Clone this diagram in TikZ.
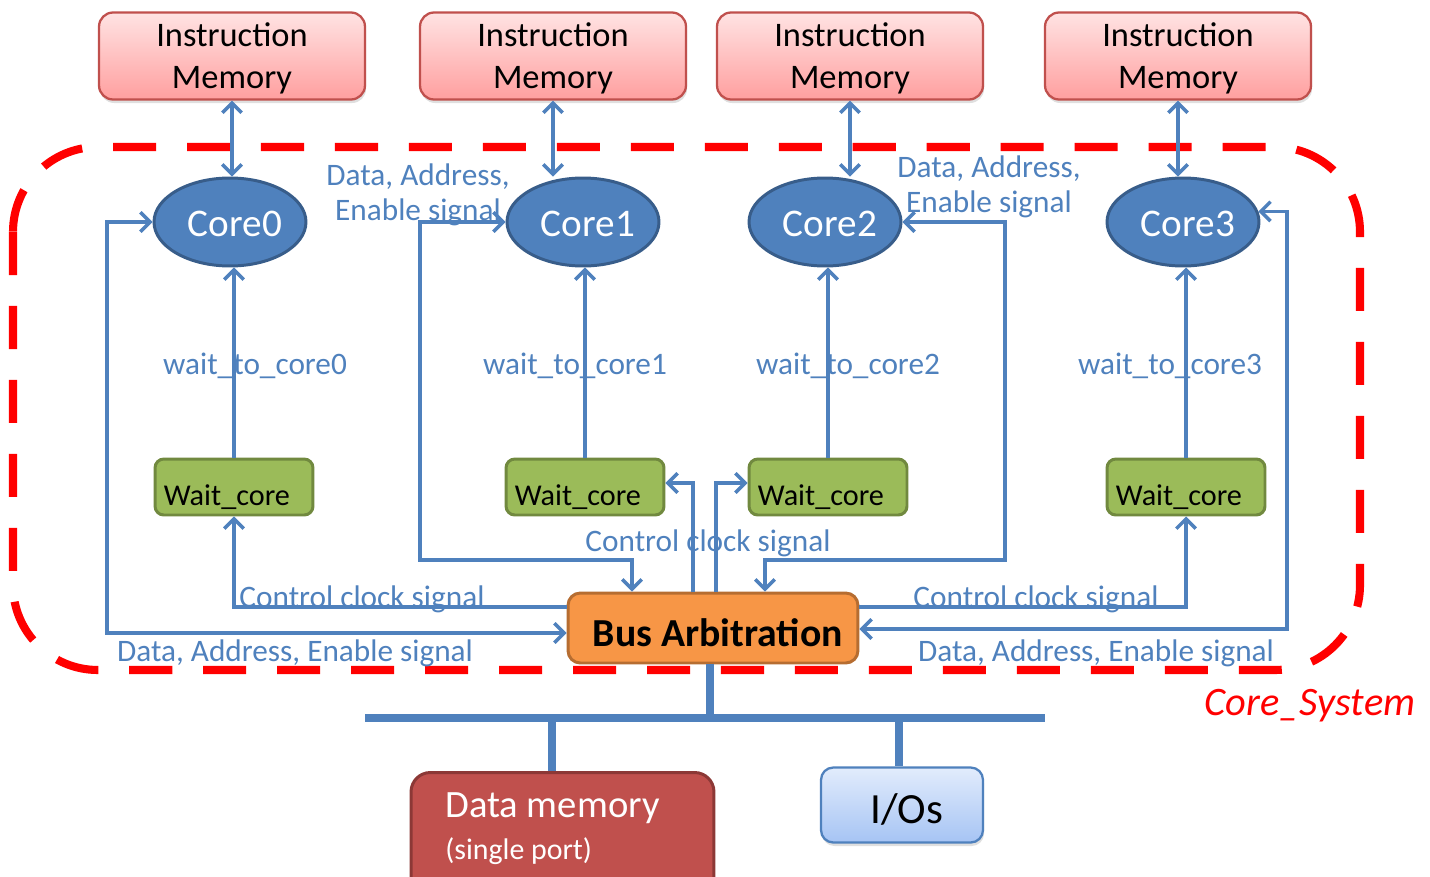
\documentclass[tikz,border=0pt]{standalone}
\usepackage{fontspec}
\setmainfont{Carlito}
\usetikzlibrary{arrows.meta,calc,shadows,shapes.geometric}

\definecolor{lineblue}{HTML}{4F81BD}
\definecolor{coreblue}{HTML}{4F81BD}
\definecolor{coreborder}{HTML}{385D8A}
\definecolor{waitgreen}{HTML}{9BBB59}
\definecolor{waitborder}{HTML}{71893F}
\definecolor{arborange}{HTML}{F79646}
\definecolor{arbborder}{HTML}{B66D31}
\definecolor{imtop}{HTML}{FFE3E3}
\definecolor{imbot}{HTML}{FF9F9F}
\definecolor{imborder}{HTML}{C0504D}
\definecolor{dmred}{HTML}{C0504D}
\definecolor{dmborder}{HTML}{8C3836}
\definecolor{iotop}{HTML}{E2ECFC}
\definecolor{iobot}{HTML}{A6C4F4}
\definecolor{ioborder}{HTML}{4F81BD}
\definecolor{sysred}{HTML}{FF0000}

% lower a one-line text inside its node without changing the node size
\newcommand{\lowered}[2]{\raisebox{-#1}[\height][\depth]{#2}}

\tikzset{
  tip/.tip={Straight Barb[length=5.5pt,width=11pt,line width=2pt]},
  imem/.style={draw=imborder, line width=1.3pt, rounded corners=8pt,
    top color=imtop, bottom color=imbot,
    minimum width=5.32cm, minimum height=1.74cm, align=center,
    text depth=0pt,
    font=\fontsize{19.6}{23.9}\selectfont,
    drop shadow={shadow xshift=0.6pt, shadow yshift=-2pt, opacity=0.25}},
  core/.style={ellipse, draw=coreborder, line width=1.7pt, fill=coreblue,
    text=white, minimum width=3.04cm, minimum height=1.76cm, inner sep=0pt,
    font=\fontsize{22.3}{26}\selectfont},
  waitbox/.style={draw=waitborder, fill=waitgreen, line width=1.7pt,
    rounded corners=5pt, minimum width=3.16cm, minimum height=1.12cm},
  waittext/.style={anchor=west, inner sep=0pt, font=\fontsize{17.2}{20}\selectfont},
  arb/.style={draw=arbborder, fill=arborange, line width=1.7pt,
    rounded corners=7pt, minimum width=5.8cm, minimum height=1.4cm,
    font=\bfseries\fontsize{22.6}{26}\selectfont},
  dmem/.style={draw=dmborder, fill=dmred, line width=1.7pt,
    rounded corners=11pt, minimum width=6.06cm, minimum height=2.5cm},
  dmtext/.style={anchor=west, inner sep=0pt, text=white},
  iobox/.style={draw=ioborder, line width=1.3pt, rounded corners=7pt,
    top color=iotop, bottom color=iobot,
    minimum width=3.24cm, minimum height=1.5cm,
    font=\fontsize{24.5}{28}\selectfont,
    drop shadow={shadow xshift=0.6pt, shadow yshift=-2pt, opacity=0.25}},
  lbl/.style={text=lineblue, inner sep=0pt, align=center,
    font=\fontsize{17.8}{21}\selectfont},
  conn/.style={draw=lineblue, line width=2.1pt},
  arr/.style={conn, -tip},
  dbl/.style={conn, tip-tip},
  bus/.style={draw=lineblue, line width=4.6pt},
  system/.style={draw=sysred, line width=4.6pt, rounded corners=1.7cm,
    dash pattern=on 24.5pt off 17.6pt},
}

\begin{document}
\begin{tikzpicture}[x=0.02cm, y=-0.02cm]
\useasboundingbox (0,0) rectangle (1430,876);
\clip (0,0) rectangle (1430,876);

% core system boundary
\draw[system] (13,147) rectangle (1360,670);
\node[text=sysred, inner sep=0pt, font=\itshape\fontsize{23}{26}\selectfont]
  (sysname) at (1310,706) {Core\_System};

% instruction memories
\node[imem] (im0) at (232,56) {Instruction\\Memory};
\node[imem] (im1) at (553,56) {Instruction\\Memory};
\node[imem] (im2) at (850,56) {Instruction\\Memory};
\node[imem] (im3) at (1178,56) {Instruction\\Memory};

% cores
\node[core] (core0) at (230,222) {\hspace*{5.5pt}\lowered{1.3pt}{Core0}};
\node[core] (core1) at (583,222) {\hspace*{5.5pt}\lowered{1.3pt}{Core1}};
\node[core] (core2) at (825,222) {\hspace*{5.5pt}\lowered{1.3pt}{Core2}};
\node[core] (core3) at (1183,222) {\hspace*{5.5pt}\lowered{1.3pt}{Core3}};

% wait blocks
\node[waitbox] (wc0) at (234,487) {};
\node[waitbox] (wc1) at (585,487) {};
\node[waitbox] (wc2) at (828,487) {};
\node[waitbox] (wc3) at (1186,487) {};
\node[waittext] (wt0) at ($(wc0.west)+(10,10)$) {Wait\_core};
\node[waittext] (wt1) at ($(wc1.west)+(10,10)$) {Wait\_core};
\node[waittext] (wt2) at ($(wc2.west)+(10,10)$) {Wait\_core};
\node[waittext] (wt3) at ($(wc3.west)+(10,10)$) {Wait\_core};

% bus arbiter
\node[arb] (ba) at (713,628) {\hspace*{5.5pt}\lowered{2.8pt}{Bus Arbitration}};

% shared bus and peripherals
\node[dmem] (dm) at (562.5,835) {};
\node[dmtext, font=\fontsize{22}{26}\selectfont] (dmt1) at (445,808) {Data memory};
\node[dmtext, font=\fontsize{17}{20}\selectfont] (dmt2) at (445,851) {(single port)};
\node[iobox] (io) at (902,805) {\hspace*{5.5pt}\lowered{2.6pt}{I/Os}};

\coordinate (busL) at (365,718);
\coordinate (busR) at (1045,718);
\draw[bus] (busL) -- (busR);
\draw[bus] (ba.south -| 710,0) -- (710,718);
\draw[bus] (552,718) -- (dm.north -| 552,0);
\draw[bus] (899,718) -- (io.north -| 899,0);

% signal labels
\node[lbl] (w0) at (255,366) {wait\_to\_core0};
\node[lbl] (w1) at (575,366) {wait\_to\_core1};
\node[lbl] (w2) at (848,366) {wait\_to\_core2};
\node[lbl] (w3) at (1170,366) {wait\_to\_core3};
\node[lbl] (d1) at (418,195) {Data, Address,\\[-1pt]Enable signal};
\node[lbl] (d2) at (989,187) {Data, Address,\\[-1pt]Enable signal};
\node[lbl] (d0) at (295,653) {Data, Address, Enable signal};
\node[lbl] (d3) at (1096,653) {Data, Address, Enable signal};
\node[lbl] (k0) at (362,599) {Control clock signal};
\node[lbl] (k1) at (708,543) {Control clock signal};
\node[lbl] (k3) at (1036,599) {Control clock signal};

% instruction fetch links
\draw[dbl] (im0.south) -- (im0.south |- core0.north);
\draw[dbl] (im1.south) -- (im1.south |- core1.north);
\draw[dbl] (im2.south) -- (im2.south |- core2.north);
\draw[dbl] (im3.south) -- (im3.south |- core3.north);

% wait signals to cores
\draw[arr] (wc0.north) -- (wc0.north |- core0.south);
\draw[arr] (wc1.north) -- (wc1.north |- core1.south);
\draw[arr] (wc2.north) -- (wc2.north |- core2.south);
\draw[arr] (wc3.north) -- (wc3.north |- core3.south);

% data / address / enable paths between cores and arbiter
\coordinate (p0) at (107,633);
\coordinate (p1) at (420,560);
\coordinate (p2) at (1005,560);
\coordinate (p3) at (1287,629);
\draw[dbl] (core0.west) -| (p0) -- (ba.west |- p0);
\draw[dbl] (core1.west) -| (p1) -| ($(ba.north)+(-81,0)$);
\draw[dbl] (core2.east) -| (p2) -| ($(ba.north)+(52,0)$);
\draw[dbl] (core3.8) -| (p3) -- (ba.east |- p3);

% control clock paths from arbiter to wait blocks
\draw[arr] ($(ba.west)+(0,-21)$) -| (wc0.south);
\draw[arr] ($(ba.north)+(-20,0)$) |- ($(wc1.east)+(0,-4)$);
\draw[arr] ($(ba.north)+(3,0)$) |- ($(wc2.west)+(0,-4)$);
\draw[arr] ($(ba.east)+(0,-21)$) -| (wc3.south);
\end{tikzpicture}
\end{document}
